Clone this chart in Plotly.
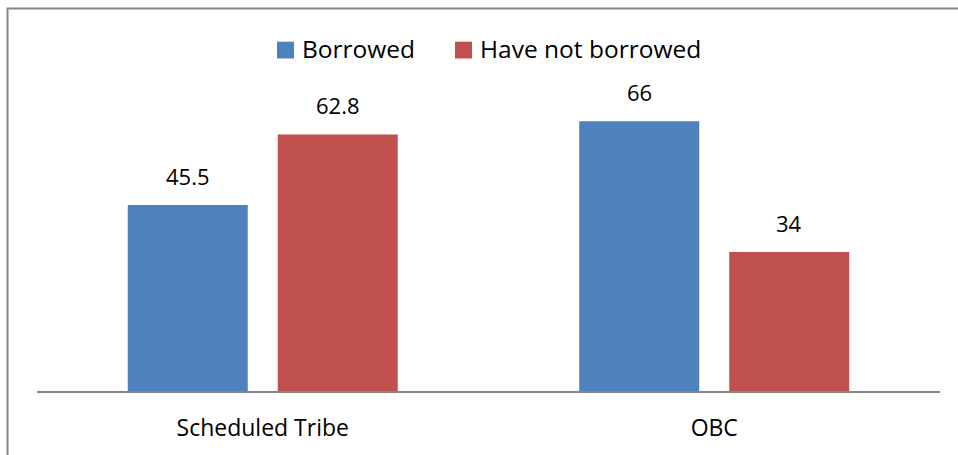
import plotly.graph_objects as go

categories = ["Scheduled Tribe", "OBC"]
borrowed = [45.5, 66]
not_borrowed = [62.8, 34]
series_names = ["Borrowed", "Have not borrowed"]
colors = ["#4F81BD", "#C0504D"]

W, H = 958, 455
ML, MR, MT, MB = 37, 18, 105, 61
PW, PH = W - ML - MR, H - MT - MB
FONT = "Open Sans"
FS_LABEL = 22
FS_TICK = 23
FS_LEG = 24.5

def px(x):
    return (x - ML) / PW

def py(y):
    return (H - MB - y) / PH

fig = go.Figure()
for name, vals, col in zip(series_names, [borrowed, not_borrowed], colors):
    fig.add_trace(go.Bar(x=categories, y=vals, name=name, marker_color=col,
                         marker_line_width=0, showlegend=False))

# data labels
cat_px = PW / len(categories)
bar_w_cat = 120 / cat_px
gap_cat = 30 / cat_px
off = bar_w_cat / 2 + gap_cat / 2
annotations = []
for si, vals in enumerate([borrowed, not_borrowed]):
    for ci, v in enumerate(vals):
        annotations.append(dict(x=ci + (-off if si == 0 else off), y=v, xref="x", yref="y",
                                text=f"{v:g}", showarrow=False, yanchor="bottom",
                                yshift=12, font=dict(family=FONT, size=FS_LABEL, color="#000")))

# manual legend
shapes = []
leg_sq = [(277, 41), (455, 41)]
leg_tx = [300, 478]
for (sx, sy), tx, name, col in zip(leg_sq, leg_tx, series_names, colors):
    shapes.append(dict(type="rect", xref="paper", yref="paper", x0=px(sx), x1=px(sx + 17),
                       y0=py(sy + 17), y1=py(sy), fillcolor=col, line_width=0))
    annotations.append(dict(x=px(tx), y=py(48), xref="paper", yref="paper", text=name,
                            showarrow=False, xanchor="left", yanchor="middle",
                            font=dict(family=FONT, size=FS_LEG, color="#000")))

# chart border
shapes.append(dict(type="rect", xref="paper", yref="paper", x0=px(7.5), x1=px(975),
                   y0=py(475), y1=py(7.5), line=dict(color="#868686", width=2),
                   fillcolor="rgba(0,0,0,0)", layer="above"))

fig.update_layout(
    width=W, height=H,
    margin=dict(l=ML, r=MR, t=MT, b=MB),
    paper_bgcolor="white", plot_bgcolor="white",
    barmode="group", bargap=1 - 300 / cat_px, bargroupgap=0.2,
    showlegend=False,
    font=dict(family=FONT, size=FS_TICK, color="#000"),
    xaxis=dict(showline=True, linecolor="#868686", linewidth=1.5, ticks="",
               showgrid=False, zeroline=False, ticklabelstandoff=16,
               tickfont=dict(family=FONT, size=FS_TICK, color="#000")),
    yaxis=dict(range=[0, 70], showticklabels=False, showgrid=False, zeroline=False,
               showline=False, ticks=""),
    annotations=annotations,
    shapes=shapes,
)

fig.write_html("out.html")
